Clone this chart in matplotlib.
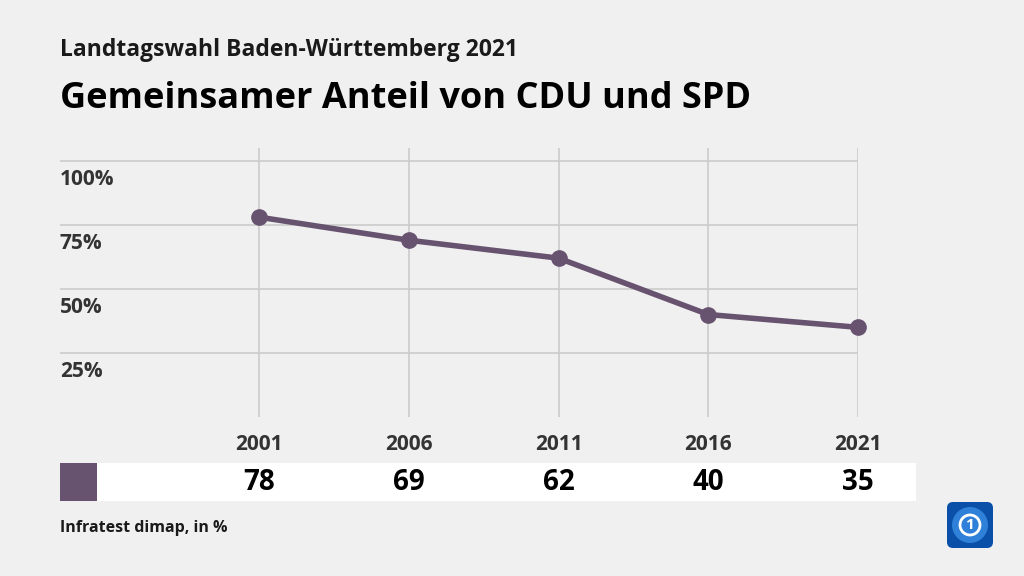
import matplotlib.pyplot as plt
import matplotlib.transforms as mtransforms
from matplotlib.patches import Rectangle, FancyBboxPatch, Circle

years = ["2001", "2006", "2011", "2016", "2021"]
shares = [78, 69, 62, 40, 35]
ytick_values = [25, 50, 75, 100]
ytick_labels = ["25%", "50%", "75%", "100%"]

line_color = "#67536f"
bg = "#f0f0f0"
plt.rcParams["font.family"] = ["Open Sans", "DejaVu Sans"]

W, H = 1024, 576
fig = plt.figure(figsize=(W / 100, H / 100), dpi=100, facecolor=bg)


def px(x, y, w, h):
    # pixel box (top-left origin) -> figure fraction
    return [x / W, 1 - (y + h) / H, w / W, h / H]


ax = fig.add_axes(px(60, 148, 798, 269))
ax.set_facecolor(bg)
x = list(range(len(years)))
ax.set_xlim(-1.33, 4)
ax.set_ylim(0, 105)

# grid
for v in ytick_values:
    ax.axhline(v, color="#cbcbcb", lw=1.2, zorder=1)
for xi in x:
    ax.axvline(xi, color="#cbcbcb", lw=1.2, zorder=1)

ax.plot(x, shares, color=line_color, lw=4, marker="o", markersize=11, zorder=3, clip_on=False)

for s in ax.spines.values():
    s.set_visible(False)
ax.set_yticks([])
ax.set_xticks(x, years)
ax.tick_params(axis="x", length=0, pad=12, labelsize=15, labelcolor="#333333")
for lbl in ax.get_xticklabels():
    lbl.set_fontweight("bold")

# y labels under the grid lines
ylab_tr = mtransforms.offset_copy(ax.get_yaxis_transform(), fig=fig, x=0, y=-19, units="dots")
for v, t in zip(ytick_values, ytick_labels):
    ax.text(0, v, t, transform=ylab_tr, ha="left", va="center", fontsize=15,
            fontweight="bold", color="#333333")

# value row
fig.patches.append(Rectangle((97 / W, 1 - 501 / H), (916 - 97) / W, 38 / H, zorder=-1,
                             transform=fig.transFigure, facecolor="white", edgecolor="none"))
fig.patches.append(Rectangle((60 / W, 1 - 501 / H), 37 / W, 38 / H, zorder=-1,
                             transform=fig.transFigure, facecolor=line_color, edgecolor="none"))
row_tr = mtransforms.blended_transform_factory(ax.transData, fig.transFigure)
for xi, v in zip(x, shares):
    ax.text(xi, 1 - 483 / H, str(v), transform=row_tr, ha="center", va="center",
            fontsize=20, fontweight="bold", color="black", clip_on=False)

# titles
fig.text(60 / W, 1 - 50 / H, "Landtagswahl Baden-Württemberg 2021", fontsize=16.5,
         fontweight="bold", color="#1a1a1a", va="center")
fig.text(60 / W, 1 - 99 / H, "Gemeinsamer Anteil von CDU und SPD", fontsize=26,
         fontweight="bold", color="black", va="center")
fig.text(60 / W, 1 - 528 / H, "Infratest dimap, in %", fontsize=11.5,
         fontweight="bold", color="#1a1a1a", va="center")

# logo
lax = fig.add_axes(px(945, 500, 50, 50))
lax.set_xlim(0, 1)
lax.set_ylim(0, 1)
lax.axis("off")
lax.add_patch(FancyBboxPatch((0.04, 0.04), 0.92, 0.92, boxstyle="round,pad=0,rounding_size=0.12",
                             facecolor="#0a4fa8", edgecolor="none"))
lax.add_patch(Circle((0.5, 0.5), 0.36, facecolor="#2f80d8", edgecolor="none"))
lax.add_patch(Circle((0.5, 0.5), 0.2, facecolor="none", edgecolor="white", lw=2))
lax.text(0.5, 0.5, "1", color="white", ha="center", va="center", fontsize=11, fontweight="bold")

fig.savefig("out.png", dpi=100, facecolor=bg)
